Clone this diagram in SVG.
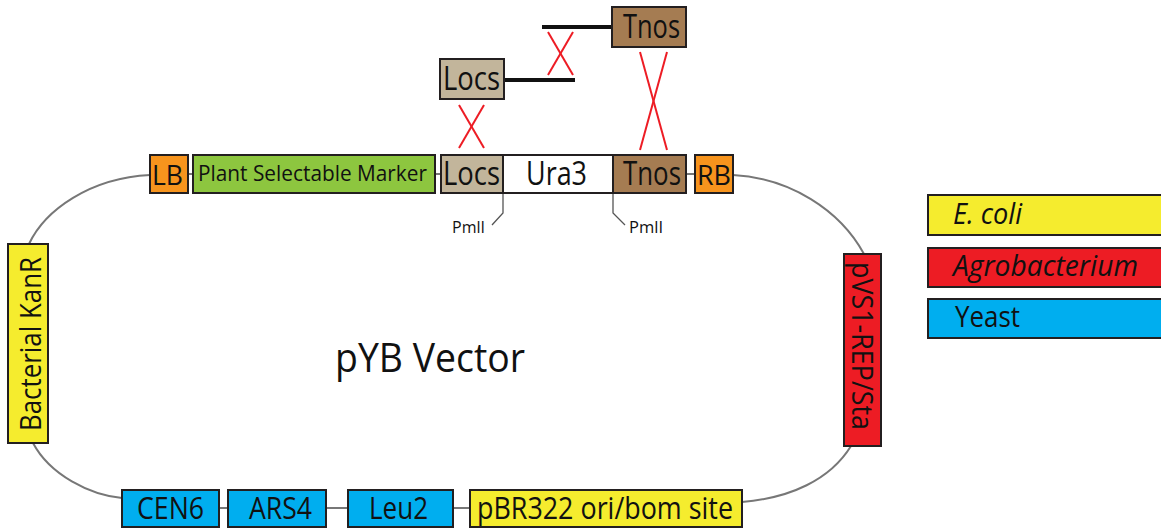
<svg xmlns="http://www.w3.org/2000/svg" width="1161" height="531" viewBox="0 0 1161 531">
<style>
.box{stroke:#231f20;stroke-width:2}
.t{font-family:"Open Sans","Liberation Sans",sans-serif;fill:#111;text-anchor:middle}
.s{text-anchor:start}
.bb{fill:none;stroke:#777;stroke-width:2}
.x{stroke:#ed1c24;stroke-width:2}
.k{stroke:#111;stroke-width:4}
.pm{fill:none;stroke:#555;stroke-width:1.3}
</style>
<rect width="1161" height="531" fill="#fff"/>
<g id="connectors">
<path class="bb" d="M150,175 C90,178 45,210 29,244"/>
<path class="bb" d="M33,443 C50,475 90,495 122,498"/>
<path class="bb" d="M733,175 C790,178 840,210 864,254"/>
<path class="bb" d="M851,446 C830,480 790,498 742,502"/>
<line class="bb" x1="188" y1="174" x2="193" y2="174"/>
<line class="bb" x1="435" y1="174" x2="441" y2="174"/>
<line class="bb" x1="686" y1="174" x2="695" y2="174"/>
<line class="bb" x1="219" y1="508" x2="228" y2="508"/>
<line class="bb" x1="326" y1="508" x2="348" y2="508"/>
<line class="bb" x1="453" y1="508" x2="470" y2="508"/>
<line class="k" x1="504" y1="80" x2="575" y2="80"/>
<line class="k" x1="542" y1="27" x2="612" y2="27"/>
<line class="x" x1="459" y1="105" x2="484" y2="148"/>
<line class="x" x1="484" y1="105" x2="459" y2="148"/>
<line class="x" x1="548" y1="32" x2="573" y2="75"/>
<line class="x" x1="573" y1="32" x2="548" y2="75"/>
<line class="x" x1="640" y1="52" x2="667" y2="150"/>
<line class="x" x1="667" y1="52" x2="640" y2="150"/>
<path class="pm" d="M503,193 V213 L492,225"/>
<path class="pm" d="M613,193 V213 L625,225"/>
</g>
<g id="pmlI-left"><text class="t s" x="452" y="233" font-size="16" textLength="33" lengthAdjust="spacingAndGlyphs">PmlI</text></g>
<g id="pmlI-right"><text class="t s" x="629" y="233" font-size="16" textLength="34" lengthAdjust="spacingAndGlyphs">PmlI</text></g>
<g id="LB"><rect class="box" x="150" y="155" width="38" height="38" fill="#f7941d"/><text class="t s" x="152" y="185" font-size="28" textLength="31" lengthAdjust="spacingAndGlyphs">LB</text></g>
<g id="PSM"><rect class="box" x="193" y="155" width="242" height="38" fill="#8dc63f"/><text class="t s" x="198" y="181" font-size="21" textLength="229" lengthAdjust="spacingAndGlyphs">Plant Selectable Marker</text></g>
<g id="Locs"><rect class="box" x="441" y="155" width="62" height="38" fill="#c2b59b"/><text class="t s" x="443" y="185" font-size="32" textLength="57" lengthAdjust="spacingAndGlyphs">Locs</text></g>
<g id="Ura3"><rect class="box" x="503" y="155" width="110" height="38" fill="#fff"/><text class="t s" x="526" y="185" font-size="32" textLength="61" lengthAdjust="spacingAndGlyphs">Ura3</text></g>
<g id="Tnos"><rect class="box" x="613" y="155" width="73" height="38" fill="#a57c52"/><text class="t s" x="623" y="185" font-size="32" textLength="58" lengthAdjust="spacingAndGlyphs">Tnos</text></g>
<g id="RB"><rect class="box" x="695" y="155" width="38" height="38" fill="#f7941d"/><text class="t s" x="697" y="185" font-size="28" textLength="34" lengthAdjust="spacingAndGlyphs">RB</text></g>
<g id="Locs-top"><rect class="box" x="440" y="59" width="64" height="40" fill="#c2b59b"/><text class="t s" x="443" y="90" font-size="32" textLength="57" lengthAdjust="spacingAndGlyphs">Locs</text></g>
<g id="Tnos-top"><rect class="box" x="612" y="7" width="74" height="40" fill="#a57c52"/><text class="t s" x="623" y="38" font-size="32" textLength="57" lengthAdjust="spacingAndGlyphs">Tnos</text></g>
<g id="KanR"><rect class="box" x="8" y="244" width="40" height="199" fill="#f5ec2e"/><text class="t" transform="translate(41,344) rotate(-90)" font-size="30" textLength="174" lengthAdjust="spacingAndGlyphs">Bacterial KanR</text></g>
<g id="pVS1"><rect class="box" x="844" y="254" width="37" height="192" fill="#ed1c24"/><text class="t" transform="translate(852,346) rotate(90)" font-size="29" textLength="168" lengthAdjust="spacingAndGlyphs">pVS1-REP/Sta</text></g>
<g id="CEN6"><rect class="box" x="122" y="490" width="97" height="37" fill="#00aeef"/><text class="t s" x="137" y="519" font-size="31" textLength="67" lengthAdjust="spacingAndGlyphs">CEN6</text></g>
<g id="ARS4"><rect class="box" x="228" y="490" width="98" height="37" fill="#00aeef"/><text class="t s" x="249" y="519" font-size="31" textLength="63" lengthAdjust="spacingAndGlyphs">ARS4</text></g>
<g id="Leu2"><rect class="box" x="348" y="490" width="105" height="37" fill="#00aeef"/><text class="t s" x="369" y="519" font-size="31" textLength="59" lengthAdjust="spacingAndGlyphs">Leu2</text></g>
<g id="pBR322"><rect class="box" x="470" y="490" width="272" height="37" fill="#f5ec2e"/><text class="t s" x="477" y="519" font-size="31" textLength="256" lengthAdjust="spacingAndGlyphs">pBR322 ori/bom site</text></g>
<g id="title"><text class="t s" x="335" y="372" font-size="40" textLength="190" lengthAdjust="spacingAndGlyphs">pYB Vector</text></g>
<g id="legend-ecoli"><rect class="box" x="928" y="195" width="236" height="40" fill="#f5ec2e"/><text class="t s" x="953" y="224" font-size="29" font-style="italic" textLength="69" lengthAdjust="spacingAndGlyphs">E. coli</text></g>
<g id="legend-agro"><rect class="box" x="928" y="248" width="236" height="39" fill="#ed1c24"/><text class="t s" x="953" y="276" font-size="29" font-style="italic" textLength="185" lengthAdjust="spacingAndGlyphs">Agrobacterium</text></g>
<g id="legend-yeast"><rect class="box" x="928" y="299" width="236" height="39" fill="#00aeef"/><text class="t s" x="955" y="327" font-size="29" textLength="65" lengthAdjust="spacingAndGlyphs">Yeast</text></g>
</svg>
